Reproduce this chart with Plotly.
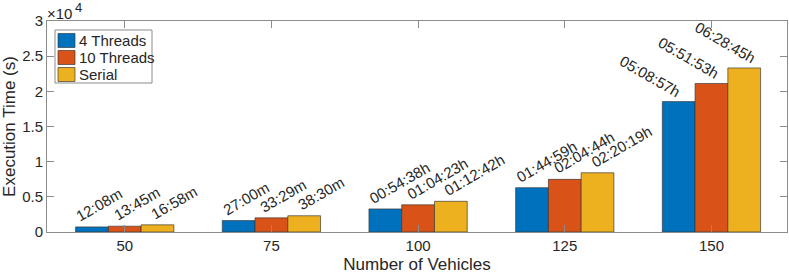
import plotly.graph_objects as go

vehicles = [50, 75, 100, 125, 150]
threads4 = [728, 1620, 3278, 6299, 18537]
threads10 = [825, 2009, 3863, 7484, 21113]
serial = [1018, 2310, 4362, 8419, 23325]
labels4 = ["12:08m", "27:00m", "00:54:38h", "01:44:59h", "05:08:57h"]
labels10 = ["13:45m", "33:29m", "01:04:23h", "02:04:44h", "05:51:53h"]
labels_serial = ["16:58m", "38:30m", "01:12:42h", "02:20:19h", "06:28:45h"]
series_names = ["4 Threads", "10 Threads", "Serial"]
colors = ["#0072BD", "#D95319", "#EDB120"]
yticks = [0, 5000, 10000, 15000, 20000, 25000, 30000]
ytick_text = ["0", "0.5", "1", "1.5", "2", "2.5", "3"]

FONT = "Liberation Sans, Arial, sans-serif"
TXT = "#262626"
EDGE = "rgba(50,50,50,0.65)"
fig = go.Figure()
all_vals = [threads4, threads10, serial]
all_labels = [labels4, labels10, labels_serial]
for name, vals, col in zip(series_names, all_vals, colors):
    fig.add_trace(go.Bar(x=vehicles, y=vals, name=name, marker_color=col,
                         marker_line=dict(color=EDGE, width=1), showlegend=False,
                         hoverinfo="skip"))

# data labels (label anchors spaced slightly wider than bars, as in the original)
label_dx = 6.38
for si, (vals, labs) in enumerate(zip(all_vals, all_labels)):
    off = (si - 1) * label_dx
    for xv, yv, lab in zip(vehicles, vals, labs):
        if xv == vehicles[-1]:
            fig.add_annotation(x=xv + off, y=yv, text=lab, textangle=30,
                               xanchor="right", yanchor="bottom", xshift=10, yshift=1.5,
                               borderpad=0, borderwidth=0,
                               showarrow=False, font=dict(size=15, color=TXT, family=FONT))
        else:
            fig.add_annotation(x=xv + off, y=yv, text=lab, textangle=-30,
                               xanchor="left", yanchor="bottom", xshift=-14, yshift=2.5,
                               borderpad=0, borderwidth=0,
                               showarrow=False, font=dict(size=15, color=TXT, family=FONT))

# exponent label
fig.add_annotation(x=0, y=1, xref="paper", yref="paper", text="×10",
                   xanchor="left", yanchor="bottom", showarrow=False, xshift=-2, yshift=-3,
                   font=dict(size=15, color=TXT, family=FONT))
fig.add_annotation(x=0, y=1, xref="paper", yref="paper", text="4",
                   xanchor="left", yanchor="bottom", showarrow=False, xshift=26, yshift=4,
                   font=dict(size=13, color=TXT, family=FONT))

# manual legend (paper coords)
W, H = 740.0, 211.0
left_m, top_m = 47, 21
def px(x):
    return (x - left_m) / W
def py(y):
    return 1 - (y - top_m) / H
fig.add_shape(type="rect", xref="paper", yref="paper",
              x0=px(55), x1=px(152), y0=py(83), y1=py(30),
              line=dict(color="#8c8c8c", width=1), fillcolor="white", layer="above")
for i, (name, col) in enumerate(zip(series_names, colors)):
    yc = 40.5 + i * 17
    fig.add_shape(type="rect", xref="paper", yref="paper",
                  x0=px(58), x1=px(75), y0=py(yc + 7), y1=py(yc - 7),
                  line=dict(color=EDGE, width=1), fillcolor=col, layer="above")
    fig.add_annotation(x=px(77), y=py(yc), xref="paper", yref="paper", text=name,
                       xanchor="left", yanchor="middle", showarrow=False,
                       font=dict(size=15, color=TXT, family=FONT))

fig.update_layout(
    width=789, height=275, autosize=False,
    margin=dict(l=47, r=2, t=21, b=43),
    paper_bgcolor="white", plot_bgcolor="white",
    barmode="group", bargap=0.33, bargroupgap=0,
    font=dict(family=FONT, size=15, color=TXT),
    showlegend=False,
)
fig.update_xaxes(range=[50 - 0.53 * 25, 150 + 0.515 * 25], tickvals=vehicles,
                 ticktext=[str(v) for v in vehicles], automargin=False,
                 showline=True, linecolor="#8c8c8c", linewidth=1, mirror="ticks",
                 ticks="inside", ticklen=7, tickcolor="#8c8c8c", showgrid=False,
                 zeroline=False, tickfont=dict(size=15),
                 title=dict(text="Number of Vehicles", font=dict(size=17), standoff=5))
fig.update_yaxes(range=[0, 30000], tickvals=yticks, ticktext=ytick_text, automargin=False,
                 showline=True, linecolor="#8c8c8c", linewidth=1, mirror="ticks",
                 ticks="inside", ticklen=7, tickcolor="#8c8c8c", showgrid=False,
                 zeroline=False, tickfont=dict(size=15),
                 title=dict(text="Execution Time (s)", font=dict(size=17), standoff=3))

post = ("document.body.style.margin='0';document.body.style.padding='0';"
        "document.body.style.overflow='hidden';"
        "Plotly.relayout('{plot_id}', {width: 789, height: 275});")
fig.write_html("out.html", config={"responsive": False, "displayModeBar": False},
               post_script=post)
